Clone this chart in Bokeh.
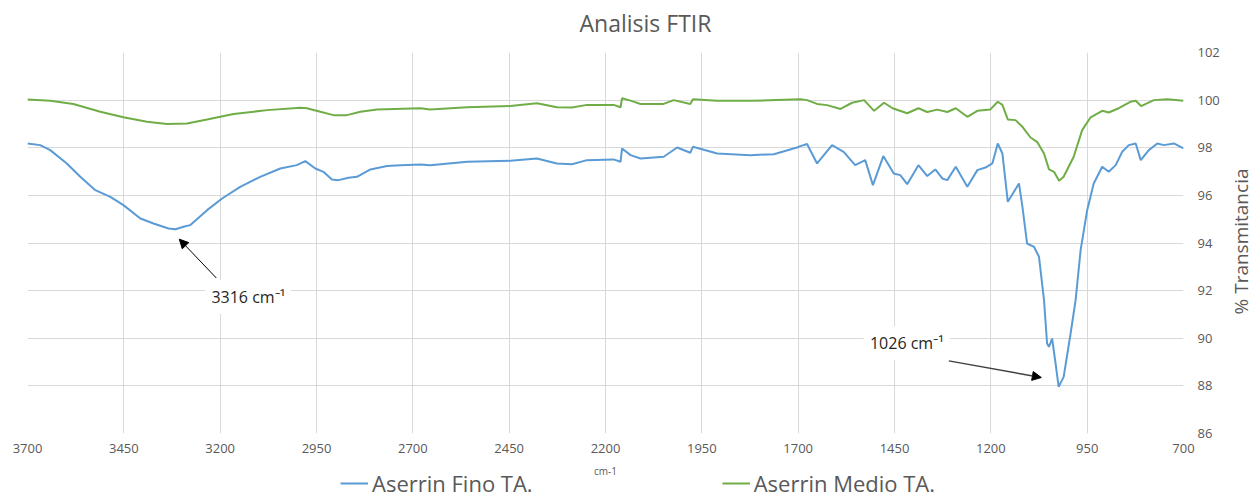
import math
from bokeh.plotting import figure
from bokeh.layouts import column, row
from bokeh.models import Range1d, Label, Arrow, NormalHead, Legend, LegendItem, FixedTicker
from bokeh.embed import file_html
from bokeh.resources import INLINE

# ---- data ----
fino_wn = [3700, 3667, 3641, 3598, 3563, 3524, 3485, 3451, 3407, 3373, 3334, 3316, 3295, 3278,
           3234, 3195, 3148, 3096, 3044, 3001, 2979, 2953, 2932, 2910, 2893, 2867, 2845, 2810,
           2767, 2732, 2680, 2655, 2559, 2447, 2378, 2326, 2287, 2248, 2179, 2161, 2157, 2135,
           2109, 2049, 2014, 1980, 1973, 1910, 1824, 1763, 1703, 1694, 1677, 1651, 1612, 1582,
           1552, 1526, 1506, 1479, 1452, 1435, 1417, 1388, 1365, 1344, 1326, 1313, 1291, 1261,
           1235, 1214, 1196, 1182, 1170, 1156, 1127, 1118, 1106, 1088, 1075, 1062, 1054, 1049,
           1041, 1032, 1024, 1011, 993, 980, 967, 950, 933, 911, 894, 876, 859, 842, 824, 811,
           790, 768, 751, 725, 700]
fino_t = [98.18, 98.11, 97.90, 97.34, 96.78, 96.22, 95.94, 95.59, 95.03, 94.82, 94.61, 94.58, 94.68, 94.75,
          95.38, 95.87, 96.36, 96.78, 97.13, 97.27, 97.44, 97.13, 96.99, 96.67, 96.64, 96.74, 96.78, 97.09,
          97.23, 97.27, 97.30, 97.27, 97.41, 97.45, 97.55, 97.34, 97.31, 97.48, 97.51, 97.41, 97.97, 97.69,
          97.55, 97.62, 98.01, 97.79, 98.04, 97.76, 97.69, 97.73, 98.01, 98.07, 98.16, 97.34, 98.11, 97.83,
          97.27, 97.48, 96.43, 97.65, 96.92, 96.85, 96.47, 97.27, 96.81, 97.09, 96.71, 96.64, 97.20, 96.36,
          97.06, 97.17, 97.34, 98.18, 97.76, 95.73, 96.50, 95.52, 93.98, 93.84, 93.42, 91.60, 89.78, 89.64,
          89.99, 88.94, 87.96, 88.38, 90.20, 91.60, 93.70, 95.38, 96.50, 97.20, 96.99, 97.27, 97.83, 98.11, 98.18, 97.48,
          97.90, 98.18, 98.11, 98.18, 97.97]

medio_wn = [3700, 3641, 3581, 3511, 3451, 3390, 3338, 3286, 3234, 3165, 3078, 2992, 2975, 2940,
            2906, 2871, 2836, 2793, 2680, 2655, 2559, 2447, 2378, 2326, 2287, 2248, 2179, 2161,
            2157, 2135, 2109, 2049, 2023, 1980, 1973, 1910, 1824, 1694, 1677, 1651, 1625, 1590,
            1560, 1529, 1503, 1477, 1455, 1417, 1388, 1365, 1339, 1313, 1291, 1261, 1235, 1201,
            1182, 1170, 1156, 1136, 1118, 1097, 1080, 1062, 1049, 1036, 1023, 1011, 985, 963,
            941, 911, 894, 868, 838, 824, 810, 777, 742, 700]
medio_t = [100.03, 99.97, 99.84, 99.51, 99.28, 99.09, 99.00, 99.02, 99.19, 99.42, 99.58, 99.68, 99.66, 99.51,
           99.37, 99.37, 99.51, 99.61, 99.66, 99.61, 99.70, 99.75, 99.87, 99.70, 99.69, 99.80, 99.80, 99.70,
           100.08, 99.98, 99.84, 99.84, 100.00, 99.84, 100.04, 99.97, 99.97, 100.04, 100.00, 99.84, 99.79, 99.63,
           99.89, 100.00, 99.55, 99.89, 99.66, 99.45, 99.66, 99.50, 99.60, 99.50, 99.66, 99.30, 99.55, 99.61,
           99.93, 99.80, 99.19, 99.16, 98.88, 98.43, 98.25, 97.76, 97.09, 96.99, 96.61, 96.78, 97.62, 98.74,
           99.28, 99.55, 99.48, 99.66, 99.93, 99.97, 99.75, 100.00, 100.04, 99.97]

x_ticks = [3700, 3450, 3200, 2950, 2700, 2450, 2200, 1950, 1700, 1450, 1200, 950, 700]
y_ticks = [86, 88, 90, 92, 94, 96, 98, 100, 102]
series_names = ["Aserrin Fino TA.", "Aserrin Medio TA."]
title_text = "Analisis FTIR"
y_title = "% Transmitancia"
x_title = "cm-1"
peak_labels = ["3316 cm\u207b\u00b9", "1026 cm\u207b\u00b9"]

FONT = "Open Sans"
GRAY = "#595959"
BLUE = "#5B9BD5"
GREEN = "#70AD47"
W_MAIN = 1224      # width of the column holding title / chart / legend
W_SIDE = 1255 - W_MAIN
H_TOTAL = 499
FL, FR = 27, 1183  # frame left / right in pixels


def strip_fig(w, h, left=FL, right_border=W_MAIN - FR):
    f = figure(width=w, height=h, output_backend="svg", toolbar_location=None,
               x_range=Range1d(left, w - right_border), y_range=Range1d(0, h),
               min_border=0, min_border_left=left, min_border_right=right_border,
               x_axis_location=None, y_axis_location=None)
    f.title = None
    f.outline_line_color = None
    for g in f.grid:
        g.visible = False
    return f


# ---- header with the chart title (coordinates are page pixels) ----
head = strip_fig(W_MAIN, 40)
head.add_layout(Label(x=645, y=18, text=title_text, text_align="center", text_baseline="middle",
                      text_font=FONT, text_font_size="23px", text_color=GRAY))

# ---- main chart ----
p = figure(width=W_MAIN, height=425, output_backend="svg", toolbar_location=None,
           x_range=Range1d(3700, 700), y_range=Range1d(86, 102),
           y_axis_location="right", min_border_left=FL, min_border_right=W_MAIN - FR,
           min_border_top=12, min_border_bottom=32)
p.title = None
p.outline_line_color = None

l1 = p.line(fino_wn, fino_t, line_color=BLUE, line_width=2)
l2 = p.line(medio_wn, medio_t, line_color=GREEN, line_width=2)

for ax in (p.xaxis[0], p.yaxis[0]):
    ax.axis_line_color = None
    ax.major_tick_line_color = None
    ax.minor_tick_line_color = None
    ax.major_tick_out = 0
    ax.major_tick_in = 0
    ax.minor_tick_out = 0
    ax.major_label_text_font = FONT
    ax.major_label_text_font_size = "13px"
    ax.major_label_text_color = GRAY

p.xaxis.ticker = FixedTicker(ticks=x_ticks)
p.yaxis.ticker = FixedTicker(ticks=y_ticks)
p.xaxis.major_label_standoff = 10
p.yaxis.major_label_standoff = 14

for g in (p.xgrid[0], p.ygrid[0]):
    g.grid_line_color = "#d9d9d9"
    g.grid_line_width = 1
p.xgrid.ticker = FixedTicker(ticks=x_ticks)
p.ygrid.ticker = FixedTicker(ticks=y_ticks)

# annotations
p.add_layout(Label(x=3127, y=91.73, text=peak_labels[0], text_align="center", text_baseline="middle",
                   text_font=FONT, text_font_size="16px", text_color="#262626",
                   background_fill_color="white", padding=6))
p.add_layout(Arrow(x_start=3210, y_start=92.53, x_end=3306, y_end=94.16,
                   line_color="black", line_width=1,
                   end=NormalHead(size=9, fill_color="black", line_color="black")))
p.add_layout(Label(x=1418, y=89.79, text=peak_labels[1], text_align="center", text_baseline="middle",
                   text_font=FONT, text_font_size="16px", text_color="#262626",
                   background_fill_color="white", padding=6))
p.add_layout(Arrow(x_start=1309, y_start=89.05, x_end=1069, y_end=88.35,
                   line_color="#404040", line_width=1.5,
                   end=NormalHead(size=9, fill_color="black", line_color="black")))

# ---- footer: x-axis unit and legend ----
foot = strip_fig(W_MAIN, 34)
foot.add_layout(Label(x=605, y=29, text=x_title, text_align="center", text_baseline="middle",
                      text_font=FONT, text_font_size="10px", text_color=GRAY))
NAN2 = [math.nan, math.nan]
s1 = foot.line(NAN2, NAN2, line_color=BLUE, line_width=2)
s2 = foot.line(NAN2, NAN2, line_color=GREEN, line_width=2)
legend = Legend(items=[LegendItem(label=series_names[0], renderers=[s1]),
                       LegendItem(label=series_names[1], renderers=[s2])],
                orientation="horizontal", location=(313, 1),
                label_text_font=FONT, label_text_font_size="22px", label_text_color=GRAY,
                glyph_width=28, glyph_height=20, label_standoff=4, spacing=189,
                padding=0, margin=0, background_fill_alpha=0, border_line_alpha=0)
foot.add_layout(legend, "center")

# ---- right strip with the y-axis title (reads bottom to top) ----
side = figure(width=W_SIDE, height=H_TOTAL, output_backend="svg", toolbar_location=None,
              x_range=Range1d(W_MAIN, 1255), y_range=Range1d(0, H_TOTAL), min_border=0,
              x_axis_location=None, y_axis_location=None)
side.title = None
side.outline_line_color = None
for g in side.grid:
    g.visible = False
side.add_layout(Label(x=1240, y=H_TOTAL - 241, text=y_title, angle=90, angle_units="deg",
                      text_align="center", text_baseline="middle",
                      text_font=FONT, text_font_size="19px", text_color=GRAY))

layout = row(column(head, p, foot, spacing=0), side, spacing=0)
open("out.html", "w").write(file_html(layout, INLINE))
